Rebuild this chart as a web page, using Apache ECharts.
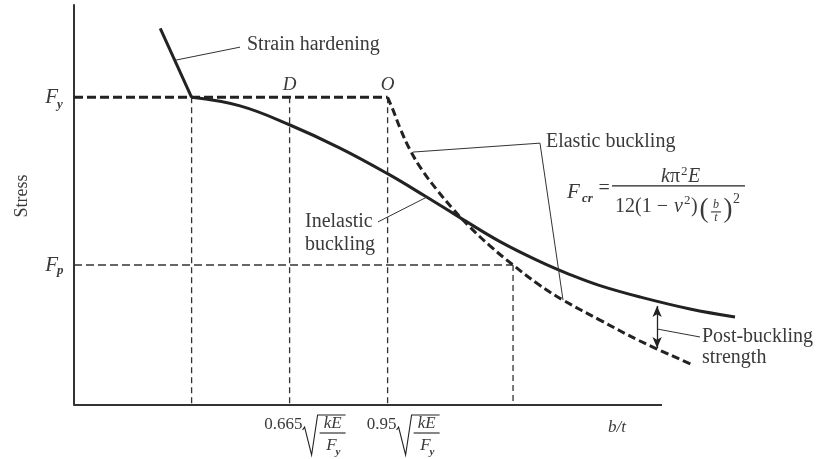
<!DOCTYPE html>
<html>
<head>
<meta charset="utf-8">
<script src="https://cdn.jsdelivr.net/npm/echarts@6/dist/echarts.min.js"></script>
<style>
  html, body { margin: 0; padding: 0; background: #fff; }
  #chart { width: 825px; height: 459px; }
</style>
</head>
<body>
<div id="chart"></div>
<script>
// ---- data (x in arbitrary b/t units, y as stress / Fy) ----
const strainX = [0.88, 1.2];
const strainY = [1.224, 1.0];
const inelasticX = [1.2, 1.694, 2.204, 2.714, 3.204, 3.582, 3.939, 4.347, 4.755, 5.061, 5.367, 5.776, 6.286, 6.745];
const inelasticY = [1.0, 0.972, 0.910, 0.835, 0.751, 0.679, 0.609, 0.531, 0.466, 0.424, 0.388, 0.351, 0.312, 0.286];
const elasticX = [3.2, 3.255, 3.327, 3.429, 3.551, 3.704, 3.867, 4.041, 4.245, 4.48, 4.735, 4.99, 5.367, 5.776, 6.316];
const elasticY = [1.0, 0.959, 0.900, 0.829, 0.764, 0.699, 0.637, 0.578, 0.517, 0.455, 0.393, 0.341, 0.276, 0.208, 0.130];
const FY = 1.0;
const FP = 0.455;
const xYield = 1.2;
const xD = 2.2;
const xO = 3.2;
const xP = 4.48;
const xAxisEnd = 6.0;
const tickXs = [xD, xO];
const tickCoefs = ['0.665', '0.95'];
const arrowX = 5.95;
const arrowTop = 0.322;
const arrowBottom = 0.185;
const strainLeaderX = [1.041, 1.694];
const strainLeaderY = [1.121, 1.163];
const elasticLeaderX = [3.459, 4.755, 4.99];
const elasticLeaderY = [0.822, 0.851, 0.341];
const inelasticLeaderX = [3.102, 3.602];
const inelasticLeaderY = [0.595, 0.676];
const postLeaderX = [5.95, 6.388];
const postLeaderY = [0.247, 0.221];
const labelStrain = 'Strain hardening';
const labelElastic = 'Elastic buckling';
const labelInelastic = 'Inelastic\nbuckling';
const labelPost = 'Post-buckling\nstrength';
const labelStress = 'Stress';
const labelBT = 'b/t';

// ---- styling ----
const INK = '#222';
const TEXT = '#3a3a3a';
const SERIF = '"Liberation Serif", "DejaVu Serif", serif';
const f = (size, style) => (style ? style + ' ' : '') + size + 'px ' + SERIF;

function pairs(xs, ys) { return xs.map((x, i) => [x, ys[i]]); }

function lineSeries(name, data, width, dash, smooth, color) {
  return {
    name, type: 'line', data, symbol: 'none', showSymbol: false,
    smooth: smooth || false, clip: false, silent: true,
    lineStyle: { color: color || INK, width: width, type: dash || 'solid', cap: 'butt' },
    z: 3
  };
}

function renderAnnotations(params, api) {
  const C = (x, y) => api.coord([x, y]);
  const kids = [];
  const txt = (x, y, text, font, align, vAlign, extra) => {
    const el = {
      type: 'text', x: x, y: y,
      style: Object.assign({
        text: text, font: font, fill: TEXT,
        align: align || 'left', verticalAlign: vAlign || 'middle',
        textAlign: align || 'left', textVerticalAlign: vAlign || 'middle'
      }, extra || {})
    };
    kids.push(el);
    return el;
  };
  const poly = (pts, w) => kids.push({
    type: 'polyline', shape: { points: pts },
    style: { stroke: INK, lineWidth: w || 1.2, fill: null }
  });

  // text labels
  let p = C(1.765, 1.170);
  txt(p[0], p[1], labelStrain, f(20));
  p = C(4.816, 0.855);
  txt(p[0], p[1], labelElastic, f(20));
  p = C(2.357, 0.557);
  txt(p[0], p[1], labelInelastic, f(20), 'left', 'middle', { lineHeight: 23 });
  p = C(6.408, 0.187);
  txt(p[0], p[1], labelPost, f(20), 'left', 'middle', { lineHeight: 21 });

  // D and O markers
  p = C(xD, FY);
  txt(p[0], p[1] - 12, 'D', f(19, 'italic'), 'center');
  p = C(xO, FY);
  txt(p[0], p[1] - 12, 'O', f(19, 'italic'), 'center');

  // Fy and Fp on the stress axis
  p = C(0, FY);
  txt(p[0] - 16, p[1], 'F', f(21, 'italic'), 'right');
  txt(p[0] - 17, p[1] + 7, 'y', f(13, 'italic bold'), 'left');
  p = C(0, FP);
  txt(p[0] - 16, p[1], 'F', f(21, 'italic'), 'right');
  txt(p[0] - 17, p[1] + 6, 'p', f(13, 'italic bold'), 'left');

  // Stress axis title
  p = C(-0.531, 0.679);
  txt(p[0], p[1], labelStress, f(18), 'center', 'middle');
  kids[kids.length - 1].rotation = Math.PI / 2;

  // b/t axis title
  p = C(5.54, 0);
  txt(p[0], p[1] + 23, labelBT, f(17, 'italic'), 'center');

  // x tick labels: coef * sqrt(kE / Fy)
  const shifts = [13, 9];
  tickXs.forEach((tx, i) => {
    const T = C(tx, 0);
    const s = shifts[i];
    const x0 = T[0] + s, y0 = T[1];
    txt(x0, y0 + 20, tickCoefs[i], f(17), 'right');
    poly([[x0, y0 + 25], [x0 + 2, y0 + 22], [x0 + 9, y0 + 50], [x0 + 15, y0 + 10], [x0 + 43, y0 + 10]], 1.1);
    txt(x0 + 30, y0 + 19, 'kE', f(17, 'italic'), 'center');
    poly([[x0 + 17, y0 + 28], [x0 + 43, y0 + 28]], 1.1);
    txt(x0 + 34, y0 + 41, 'F', f(17, 'italic'), 'right');
    txt(x0 + 33, y0 + 47, 'y', f(11, 'italic bold'), 'left');
  });

  // Elastic buckling formula
  const P = C(5.49, 0.712);
  const px = P[0], py = P[1];
  txt(px - 45, py + 7, 'F', f(21, 'italic'));
  txt(px - 30, py + 13, 'cr', f(13, 'italic bold'));
  txt(px - 8, py + 3, '=', f(20), 'center');
  poly([[px, py], [px + 133, py]], 1.2);
  // numerator k π^2 E
  txt(px + 49, py - 9, 'k', f(20, 'italic'), 'left');
  txt(px + 58, py - 9, 'π', f(20), 'left');
  txt(px + 69, py - 14, '2', f(13), 'left');
  txt(px + 76, py - 9, 'E', f(20, 'italic'), 'left');
  // denominator 12(1 − ν^2)(b/t)^2
  txt(px + 3, py + 21, '12(1 − ', f(20), 'left');
  txt(px + 62, py + 21, 'ν', f(20, 'italic'), 'left');
  txt(px + 72, py + 15, '2', f(13), 'left');
  txt(px + 79, py + 21, ')', f(20), 'left');
  txt(px + 92, py + 24, '(', f(27), 'center');
  txt(px + 104, py + 19, 'b', f(12, 'italic'), 'center');
  poly([[px + 99, py + 26], [px + 109, py + 26]], 1);
  txt(px + 104, py + 32, 't', f(12, 'italic'), 'center');
  txt(px + 116, py + 24, ')', f(27), 'center');
  txt(px + 121, py + 13, '2', f(14), 'left');

  return { type: 'group', children: kids };
}

const chart = echarts.init(document.getElementById('chart'), null, { renderer: 'canvas' });
chart.setOption({
  animation: false,
  backgroundColor: '#fff',
  grid: { left: 74, right: 65, top: 5, bottom: 54, containLabel: false },
  xAxis: {
    type: 'value', min: 0, max: 7,
    axisLine: { show: false },
    axisTick: { show: false }, axisLabel: { show: false }, splitLine: { show: false }
  },
  yAxis: {
    type: 'value', min: 0, max: 1.3,
    axisLine: { show: true, onZero: false, lineStyle: { color: '#333', width: 2 } },
    axisTick: { show: false }, axisLabel: { show: false }, splitLine: { show: false }
  },
  series: [
    lineSeries('b/t axis', [[0, 0], [xAxisEnd, 0]], 2, 'solid', false, '#333'),
    lineSeries('Fy level', [[0, FY], [xO, FY]], 3, [9, 4]),
    lineSeries('yield b/t', [[xYield, FY], [xYield, 0]], 1.3, [6, 4], false, '#333'),
    lineSeries('D', [[xD, FY], [xD, 0]], 1.3, [6, 4], false, '#333'),
    lineSeries('O', [[xO, FY], [xO, 0]], 1.3, [6, 4], false, '#333'),
    lineSeries('Fp level', [[0, FP], [xP, FP]], 1.3, [8, 4], false, '#333'),
    lineSeries('Fp b/t', [[xP, FP], [xP, 0]], 1.3, [6, 4], false, '#333'),
    lineSeries('Strain hardening', pairs(strainX, strainY), 3),
    lineSeries('Inelastic buckling', pairs(inelasticX, inelasticY), 3, 'solid', 0.4),
    lineSeries('Elastic buckling', pairs(elasticX, elasticY), 3, [8, 4], 0.4),
    lineSeries('leader strain', pairs(strainLeaderX, strainLeaderY), 1, 'solid', false, '#333'),
    lineSeries('leader elastic', pairs(elasticLeaderX, elasticLeaderY), 1, 'solid', false, '#333'),
    lineSeries('leader inelastic', pairs(inelasticLeaderX, inelasticLeaderY), 1, 'solid', false, '#333'),
    lineSeries('leader post', pairs(postLeaderX, postLeaderY), 1, 'solid', false, '#333'),
    {
      name: 'post-buckling arrow', type: 'line', data: [], silent: true,
      markLine: {
        silent: true, animation: false,
        symbol: ['arrow', 'arrow'], symbolSize: [7, 11],
        label: { show: false },
        lineStyle: { color: INK, width: 1.3, type: 'solid' },
        data: [[{ coord: [arrowX, arrowTop] }, { coord: [arrowX, arrowBottom] }]]
      }
    },
    {
      name: 'annotations', type: 'custom', data: [[0, 0]], clip: false, silent: true, z: 10,
      renderItem: renderAnnotations
    }
  ]
});
</script>
</body>
</html>
